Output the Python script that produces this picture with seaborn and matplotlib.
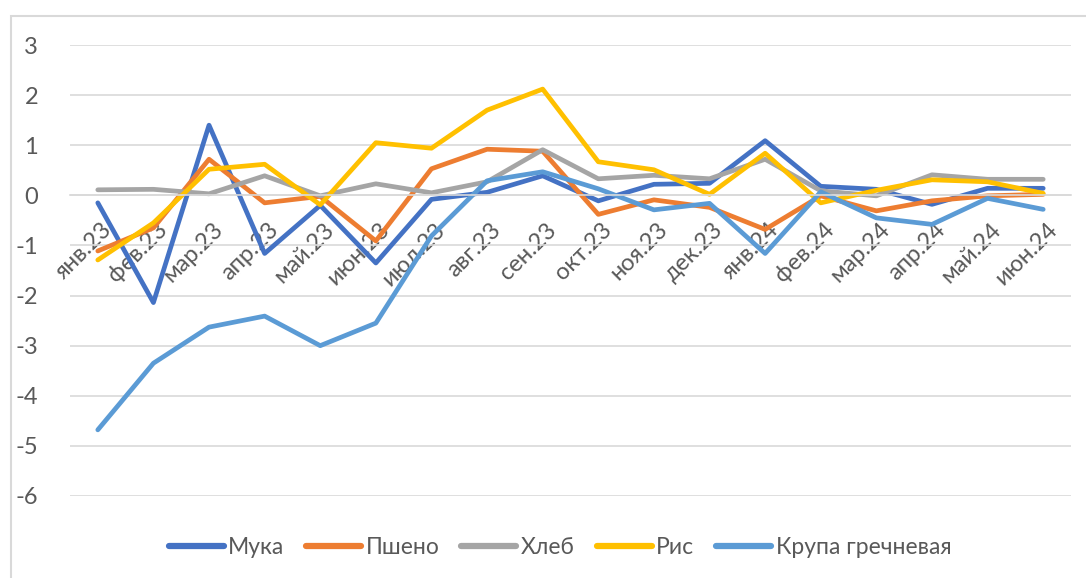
import numpy as np
import pandas as pd
import seaborn as sns
import matplotlib
matplotlib.use("Agg")
import matplotlib.pyplot as plt
import matplotlib.transforms as mtransforms
from matplotlib.patches import Rectangle

# данные
months = ["янв.23", "фев.23", "мар.23", "апр.23", "май.23", "июн.23", "июл.23", "авг.23", "сен.23",
          "окт.23", "ноя.23", "дек.23", "янв.24", "фев.24", "мар.24", "апр.24", "май.24", "июн.24"]

muka = [-0.15, -2.14, 1.40, -1.16, -0.20, -1.35, -0.08, 0.06, 0.39,
        -0.11, 0.22, 0.24, 1.09, 0.18, 0.12, -0.18, 0.14, 0.14]
psheno = [-1.11, -0.65, 0.72, -0.15, -0.02, -0.91, 0.53, 0.92, 0.88,
          -0.38, -0.09, -0.24, -0.68, -0.01, -0.31, -0.11, -0.01, 0.02]
hleb = [0.11, 0.12, 0.03, 0.39, -0.01, 0.23, 0.05, 0.27, 0.91,
        0.33, 0.40, 0.33, 0.72, 0.09, -0.01, 0.41, 0.32, 0.32]
ris = [-1.29, -0.55, 0.52, 0.62, -0.19, 1.05, 0.94, 1.70, 2.12,
       0.67, 0.51, 0.02, 0.84, -0.15, 0.10, 0.31, 0.27, 0.04]
grechka = [-4.68, -3.35, -2.63, -2.41, -3.00, -2.55, -0.81, 0.29, 0.47,
           0.13, -0.29, -0.16, -1.16, 0.07, -0.45, -0.58, -0.06, -0.28]

series_names = ["Мука", "Пшено", "Хлеб", "Рис", "Крупа гречневая"]
colors = ["#4472C4", "#ED7D31", "#A5A5A5", "#FFC000", "#5B9BD5"]

df = pd.DataFrame({"month": months, "Мука": muka, "Пшено": psheno, "Хлеб": hleb,
                   "Рис": ris, "Крупа гречневая": grechka})
df_long = df.melt(id_vars="month", var_name="product", value_name="value")

sns.set_theme(style="white")
plt.rcParams["font.family"] = ["Lato", "Open Sans", "DejaVu Sans"]
text_color = "#595959"
grid_color = "#D9D9D9"
fs = 17

fig = plt.figure(figsize=(10.86, 5.78), dpi=100)
ax = fig.add_axes([70 / 1086, 1 - 496 / 578, (1071 - 70) / 1086, (496 - 45) / 578])

sns.lineplot(data=df_long, x="month", y="value", hue="product", hue_order=series_names,
             palette=colors, sort=False, linewidth=3.4, ax=ax,
             solid_capstyle="round", solid_joinstyle="round")

ax.set_xlim(-0.5, len(months) - 0.5)
ax.set_ylim(-6, 3)
ax.set_yticks(np.arange(-6, 4, 1))
ax.set_yticklabels([str(v) for v in range(-6, 4)], fontsize=fs, color=text_color)
ax.tick_params(axis="y", length=0, pad=23)
ax.yaxis.grid(True, color=grid_color, linewidth=1.2)
ax.set_axisbelow(True)

# ось X проходит через ноль
for s in ["top", "right", "left"]:
    ax.spines[s].set_visible(False)
ax.spines["bottom"].set_position(("data", 0))
ax.spines["bottom"].set_color(grid_color)
ax.spines["bottom"].set_linewidth(1.2)
ax.set_xticks(range(len(months)))
ax.set_xticklabels(months, rotation=45, ha="right", rotation_mode="anchor",
                   fontsize=fs, color=text_color)
ax.tick_params(axis="x", length=0, pad=17)
shift = mtransforms.ScaledTranslation(3 / 100, 0, fig.dpi_scale_trans)
for lbl in ax.get_xticklabels():
    lbl.set_transform(lbl.get_transform() + shift)
ax.set_xlabel("")
ax.set_ylabel("")

ax.get_legend().remove()
handles, labels = ax.get_legend_handles_labels()
for h in handles:
    h.set_linewidth(4.5)
    h.set_solid_capstyle("round")
fig.legend(handles, labels, loc="center", bbox_to_anchor=(560 / 1086, 1 - 548 / 578),
           ncol=5, frameon=False, fontsize=16.5, labelcolor=text_color,
           handlelength=2.4, handletextpad=0.2, columnspacing=0.95)

# рамка области диаграммы
fig.patches.append(Rectangle((11 / 1086, -0.2), 1.2, 1.2 - 16 / 578,
                             transform=fig.transFigure, fill=False,
                             edgecolor=grid_color, linewidth=1.5))

fig.savefig("out.png", dpi=100)
